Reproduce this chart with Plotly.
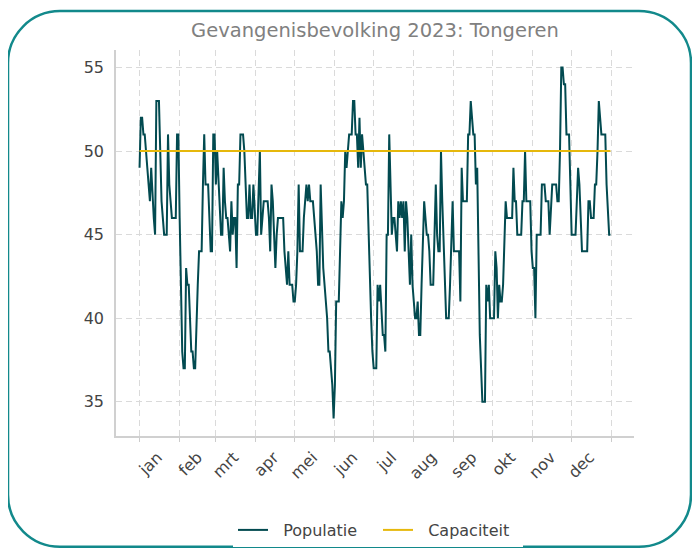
import pandas as pd
import plotly.graph_objects as go

# ---- data ----
start_date = "2023-01-01"
jan = [49, 52, 52, 51, 51, 50, 49, 48, 47, 49, 47, 46, 45, 53, 53, 53, 50, 47, 46, 45, 45, 45, 51, 48, 47, 46, 46, 46, 46, 51, 51]
feb = [46, 42, 38, 37, 37, 43, 42, 42, 40, 38, 38, 37, 37, 40, 42, 44, 44, 44, 48, 51, 48, 48, 48, 46, 44, 44, 51, 51]
mrt = [48, 50, 48, 46, 45, 45, 49, 47, 46, 46, 45, 44, 47, 45, 46, 46, 43, 48, 48, 51, 51, 51, 50, 48, 46, 46, 48, 46, 46, 48, 46]
apr = [45, 45, 48, 50, 45, 46, 47, 47, 47, 47, 46, 44, 48, 47, 45, 43, 45, 46, 46, 46, 46, 46, 44, 43, 42, 44, 42, 42, 42, 41]
mei = [41, 42, 44, 48, 44, 44, 44, 46, 47, 48, 47, 48, 47, 47, 47, 46, 45, 44, 42, 42, 48, 45, 43, 42, 41, 40, 38, 38, 37, 36, 34]
jun = [36, 41, 41, 41, 44, 47, 46, 47, 50, 49, 50, 51, 51, 51, 53, 53, 51, 51, 49, 52, 49, 51, 50, 49, 48, 48, 45, 42, 40, 38]
jul = [37, 37, 37, 42, 41, 42, 40, 39, 39, 38, 45, 45, 51, 48, 45, 46, 46, 45, 44, 47, 46, 47, 46, 47, 44, 47, 46, 44, 42, 45, 42]
aug = [41, 40, 40, 41, 39, 39, 42, 45, 47, 46, 45, 45, 44, 42, 42, 42, 45, 48, 45, 44, 44, 50, 47, 45, 43, 40, 40, 40, 42, 44, 47]
sep = [44, 44, 44, 44, 44, 41, 49, 47, 47, 47, 47, 51, 51, 53, 52, 51, 51, 48, 49, 44, 39, 37, 35, 35, 35, 42, 41, 42, 40, 40]
okt = [40, 40, 44, 43, 40, 42, 41, 41, 42, 45, 47, 46, 46, 46, 46, 46, 49, 47, 47, 45, 45, 45, 45, 47, 47, 50, 47, 47, 47, 47, 44]
nov = [43, 43, 40, 45, 45, 45, 45, 48, 48, 48, 47, 47, 47, 45, 47, 48, 48, 48, 48, 47, 47, 50, 55, 55, 54, 54, 51, 51, 51, 48]
dec = [45, 45, 45, 45, 47, 49, 48, 46, 44, 44, 44, 44, 44, 47, 47, 46, 46, 46, 48, 48, 50, 53, 52, 51, 51, 51, 51, 48, 46, 45, 45]
populatie = jan + feb + mrt + apr + mei + jun + jul + aug + sep + okt + nov + dec
capaciteit_value = 50

month_labels = ["jan", "feb", "mrt", "apr", "mei", "jun", "jul", "aug", "sep", "okt", "nov", "dec", ""]
month_starts = pd.date_range("2023-01-01", "2024-01-01", freq="MS")

dates = pd.date_range(start_date, periods=len(populatie), freq="D")
capaciteit = [capaciteit_value] * len(dates)

# ---- figure ----
OFF = 8  # default page margin of the html body
W, H = 700, 550
L, T = 116 - OFF, 50 - OFF
pw, ph = 518, 387
R, B = W - L - pw, H - T - ph

gap = "\u00a0\u00a0"
fig = go.Figure()
fig.add_trace(go.Scatter(x=dates, y=populatie, mode="lines", name=gap + "Populatie",
                         line=dict(color="#024a50", width=2)))
fig.add_trace(go.Scatter(x=dates, y=capaciteit, mode="lines", name=gap + "Capaciteit",
                         line=dict(color="#e6b80c", width=2)))

pad = (dates[-1] - dates[0]) * 0.05
xrange = [dates[0] - pad, dates[-1] + pad]
ymin, ymax = min(populatie), max(populatie)
ypad = (ymax - ymin) * 0.05


def P(x, y):
    """screen pixel -> paper coords string"""
    a = (x - OFF - L) / pw
    b = (T + ph - (y - OFF)) / ph
    return f"{a:.5f},{b:.5f}"


# rounded border (screen pixels)
x0, y0, x1, y1, r = 8, 11, 691, 548, 52
k = 0.5523 * r
path = (f"M {P(x0 + r, y0)} L {P(x1 - r, y0)} "
        f"C {P(x1 - r + k, y0)} {P(x1, y0 + r - k)} {P(x1, y0 + r)} "
        f"L {P(x1, y1 - r)} "
        f"C {P(x1, y1 - r + k)} {P(x1 - r + k, y1)} {P(x1 - r, y1)} "
        f"L {P(x0 + r, y1)} "
        f"C {P(x0 + r - k, y1)} {P(x0, y1 - r + k)} {P(x0, y1 - r)} "
        f"L {P(x0, y0 + r)} "
        f"C {P(x0, y0 + r - k)} {P(x0 + r - k, y0)} {P(x0 + r, y0)} Z")
fig.add_shape(type="path", path=path, xref="paper", yref="paper",
              line=dict(color="#12898b", width=2.5), layer="above")

fig.update_layout(
    width=W, height=H,
    margin=dict(l=L, r=R, t=T, b=B),
    paper_bgcolor="white", plot_bgcolor="white",
    font=dict(family="DejaVu Sans", size=16, color="#444444"),
    title=dict(text="Gevangenisbevolking 2023: Tongeren", x=0.5, xref="paper",
               xanchor="center", y=1 - (30 - OFF) / H, yanchor="middle",
               font=dict(size=19.5, color="#808080")),
    showlegend=True,
    legend=dict(orientation="h", x=0.5 + 3 / pw, xanchor="center", xref="paper",
                y=(T + ph - (530 - OFF)) / ph, yanchor="middle",
                entrywidth=100, entrywidthmode="pixels",
                font=dict(size=16, color="#444444")),
    xaxis=dict(type="date", range=xrange, tickvals=month_starts, ticktext=month_labels,
               tickangle=-45, ticklabelshift=18, ticklabelstandoff=0, ticks="outside", ticklen=4,
               tickcolor="#cccccc", showgrid=True, gridcolor="#dadada", griddash="6px,4px",
               gridwidth=1, showline=True, linecolor="#d0d0d0", linewidth=1.5,
               zeroline=False, tickfont=dict(size=16, color="#444444")),
    yaxis=dict(range=[ymin - ypad, ymax + ypad], tickvals=[35, 40, 45, 50, 55],
               showgrid=True, gridcolor="#dadada", griddash="6px,4px", gridwidth=1,
               showline=True, linecolor="#d0d0d0", linewidth=1.5, ticks="",
               ticklabelstandoff=7,
               zeroline=False, tickfont=dict(size=16, color="#444444")),
)

fig.write_html("out.html", post_script="document.body.style.overflow='hidden';")
